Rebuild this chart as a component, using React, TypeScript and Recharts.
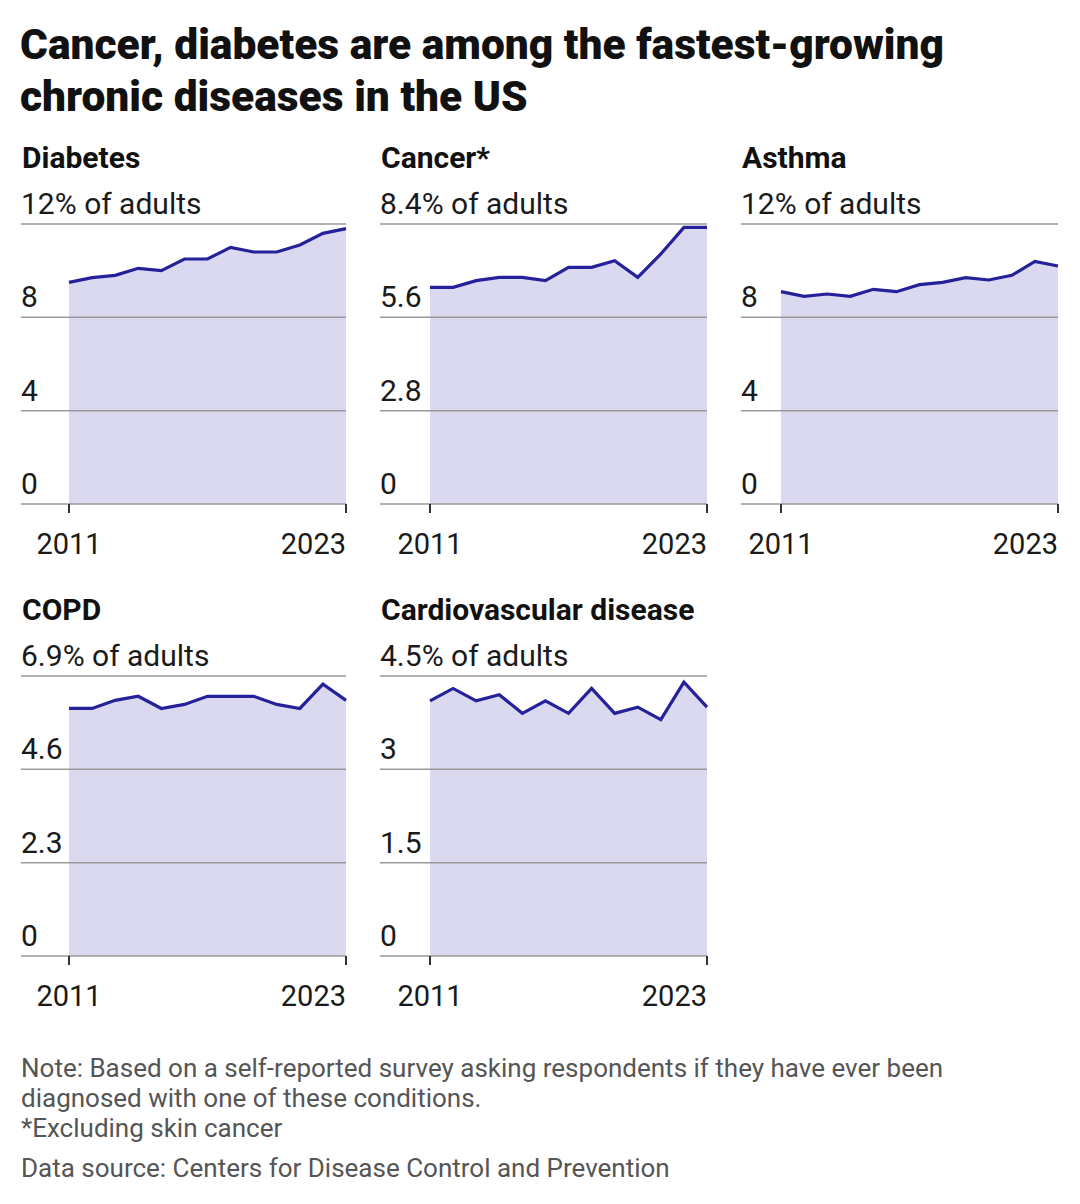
import React from "react"
import { AreaChart, Area, XAxis, YAxis } from "recharts"

const years = [2011, 2012, 2013, 2014, 2015, 2016, 2017, 2018, 2019, 2020, 2021, 2022, 2023]

const diabetes = [9.5, 9.7, 9.8, 10.1, 10.0, 10.5, 10.5, 11.0, 10.8, 10.8, 11.1, 11.6, 11.8]
const cancer = [6.5, 6.5, 6.7, 6.8, 6.8, 6.7, 7.1, 7.1, 7.3, 6.8, 7.5, 8.3, 8.3]
const asthma = [9.1, 8.9, 9.0, 8.9, 9.2, 9.1, 9.4, 9.5, 9.7, 9.6, 9.8, 10.4, 10.2]
const copd = [6.1, 6.1, 6.3, 6.4, 6.1, 6.2, 6.4, 6.4, 6.4, 6.2, 6.1, 6.7, 6.3]
const cardio = [4.1, 4.3, 4.1, 4.2, 3.9, 4.1, 3.9, 4.3, 3.9, 4.0, 3.8, 4.4, 4.0]

const diabetesTicks = [0, 4, 8, 12]
const cancerTicks = [0, 2.8, 5.6, 8.4]
const asthmaTicks = [0, 4, 8, 12]
const copdTicks = [0, 2.3, 4.6, 6.9]
const cardioTicks = [0, 1.5, 3, 4.5]

const yearTicks = [2011, 2023]

const FONT = "Roboto, sans-serif"
const LINE = "#25219a"
const PLOT_W = 277
const PLOT_H = 280
const TOP_PAD = 40
const RIGHT_PAD = 6

interface PanelProps {
  title: string
  values: number[]
  ticks: number[]
  left: number
  gridTop: number
  yw: number
}

function Panel({ title, values, ticks, left, gridTop, yw }: PanelProps) {
  const data = years.map((year, i) => ({ year, value: values[i] }))
  const plotRight = yw + PLOT_W
  const top = ticks[ticks.length - 1]

  const YTick = (props: any) => {
    const { y, payload } = props
    const label = payload.value === top ? `${payload.value}% of adults` : `${payload.value}`
    return (
      <g>
        <line x1={0} x2={plotRight} y1={y} y2={y} stroke="#999" strokeWidth={1.5} />
        <text x={0} y={y - 10} fontSize={30} fontFamily={FONT} fill="#1a1a1a">
          {label}
        </text>
      </g>
    )
  }

  const XTick = (props: any) => {
    const { x, y, index, payload } = props
    return (
      <g>
        <line x1={x} x2={x} y1={y} y2={y + 9} stroke="#333" strokeWidth={2} />
        <text
          x={x}
          y={y + 50}
          textAnchor={index === 0 ? "middle" : "end"}
          fontSize={29}
          fontFamily={FONT}
          fill="#1a1a1a"
        >
          {payload.value}
        </text>
      </g>
    )
  }

  return (
    <>
      <div
        style={{
          position: "absolute",
          left: left + 1,
          top: gridTop - 84,
          fontFamily: FONT,
          fontWeight: 700,
          fontSize: 30,
          lineHeight: "36px",
          color: "#111",
          whiteSpace: "nowrap",
        }}
      >
        {title}
      </div>
      <div style={{ position: "absolute", left, top: gridTop - TOP_PAD }}>
        <AreaChart
          width={plotRight + RIGHT_PAD}
          height={TOP_PAD + PLOT_H + 60}
          data={data}
          margin={{ top: TOP_PAD, right: RIGHT_PAD, bottom: 0, left: 0 }}
        >
          <YAxis
            width={yw}
            domain={[0, top]}
            ticks={ticks}
            axisLine={false}
            tickLine={false}
            tick={YTick}
            interval={0}
          />
          <XAxis
            dataKey="year"
            type="number"
            domain={[2011, 2023]}
            ticks={yearTicks}
            height={60}
            axisLine={false}
            tickLine={false}
            tickSize={0}
            tickMargin={0}
            tick={XTick}
            interval={0}
          />
          <Area
            type="linear"
            dataKey="value"
            stroke={LINE}
            strokeWidth={3.2}
            fill="#3a37a8"
            fillOpacity={0.19}
            isAnimationActive={false}
            dot={false}
            activeDot={false}
          />
        </AreaChart>
      </div>
    </>
  )
}

export default function App() {
  return (
    <div
      style={{
        position: "absolute",
        left: 0,
        top: 0,
        width: 1080,
        height: 1204,
        background: "#fff",
        fontFamily: FONT,
      }}
    >
      <div
        style={{
          position: "absolute",
          left: 20,
          top: 19,
          fontWeight: 900,
          fontSize: 42.5,
          lineHeight: "52px",
          color: "#111",
          whiteSpace: "nowrap",
        }}
      >
        Cancer, diabetes are among the fastest-growing
        <br />
        chronic diseases in the US
      </div>

      <Panel title="Diabetes" values={diabetes} ticks={diabetesTicks} left={21} gridTop={224} yw={48} />
      <Panel title="Cancer*" values={cancer} ticks={cancerTicks} left={380} gridTop={224} yw={50} />
      <Panel title="Asthma" values={asthma} ticks={asthmaTicks} left={741} gridTop={224} yw={40} />
      <Panel title="COPD" values={copd} ticks={copdTicks} left={21} gridTop={676} yw={48} />
      <Panel title="Cardiovascular disease" values={cardio} ticks={cardioTicks} left={380} gridTop={676} yw={50} />

      <div
        style={{
          position: "absolute",
          left: 21,
          top: 1053,
          fontSize: 26,
          lineHeight: "30px",
          color: "#555",
          width: 1040,
        }}
      >
        Note: Based on a self-reported survey asking respondents if they have ever been
        <br />
        diagnosed with one of these conditions.
        <br />
        *Excluding skin cancer
        <div style={{ marginTop: 10 }}>Data source: Centers for Disease Control and Prevention</div>
      </div>
    </div>
  )
}
